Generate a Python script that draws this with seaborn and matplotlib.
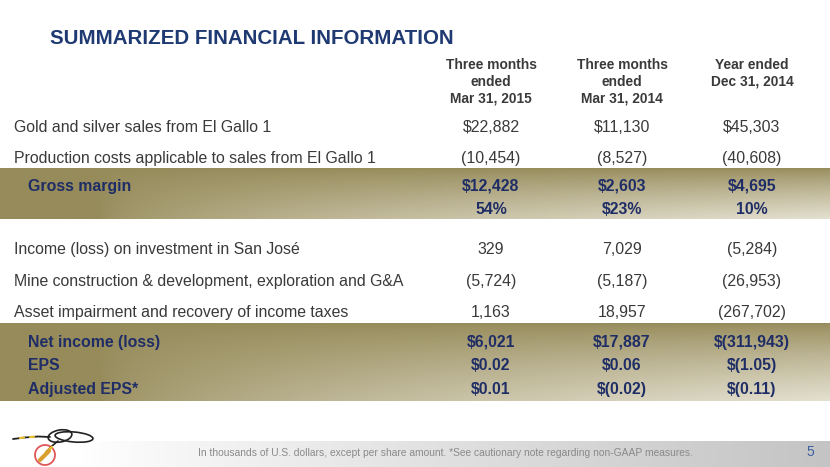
import numpy as np
import matplotlib
matplotlib.use("Agg")
import matplotlib.pyplot as plt
import seaborn as sns
from matplotlib.patches import Ellipse, Circle

# ---------------- data ----------------
title = "SUMMARIZED FINANCIAL INFORMATION"
col_headers = ["Three months\nended\nMar 31, 2015",
               "Three months\nended\nMar 31, 2014",
               "Year ended\nDec 31, 2014"]
row_labels = ["Gold and silver sales from El Gallo 1",
              "Production costs applicable to sales from El Gallo 1",
              "Gross margin",
              "",
              "Income (loss) on investment in San José",
              "Mine construction & development, exploration and G&A",
              "Asset impairment and recovery of income taxes",
              "Net income (loss)",
              "EPS",
              "Adjusted EPS*"]
q1_2015 = ["$22,882", "(10,454)", "$12,428", "54%", "329", "(5,724)", "1,163",
           "$6,021", "$0.02", "$0.01"]
q1_2014 = ["$11,130", "(8,527)", "$2,603", "$23%", "7,029", "(5,187)", "18,957",
           "$17,887", "$0.06", "$(0.02)"]
fy_2014 = ["$45,303", "(40,608)", "$4,695", "10%", "(5,284)", "(26,953)", "(267,702)",
           "$(311,943)", "$(1.05)", "$(0.11)"]
highlight = [False, False, True, True, False, False, False, True, True, True]
footnote = ("In thousands of U.S. dollars, except per share amount. "
            "*See cautionary note regarding non-GAAP measures.")
page_number = "5"

# ---------------- style ----------------
sns.set_theme(style="white")
plt.rcParams['font.family'] = ['Liberation Sans', 'DejaVu Sans']

NAVY = "#1f3a72"
VAL_NAVY = "#1f2d66"
BODY = "#3a3a3a"

W, H = 830, 467
fig = plt.figure(figsize=(W / 100, H / 100), dpi=100)
ax = fig.add_axes([0, 0, 1, 1])
ax.set_xlim(0, W)
ax.set_ylim(H, 0)
ax.axis("off")
fig.patch.set_facecolor("white")

# layout
row_y = [126, 157, 185, 208, 248, 280, 311, 341, 364, 388]
col_x = [491, 622, 752]
header_y = [64, 81, 98]


def band(y0, y1):
    nx, ny = 400, 80
    xs = np.linspace(0, 1, nx)[None, :]
    ys = np.linspace(0, 1, ny)[:, None]
    xf = np.clip((xs - 0.12) / 0.88, 0, 1) ** 0.6
    f = xf * ys ** 0.8
    D = np.array([150, 139, 90]) / 255
    L = np.array([228, 224, 208]) / 255
    rgb = D + (L - D) * f[..., None]
    ax.imshow(rgb, extent=(0, W, y1, y0), aspect="auto",
              interpolation="bilinear", zorder=0)


band(168, 219)
band(323, 401)

# footer gradient
xs = np.linspace(0, 1, 400)[None, :]
g = np.clip((xs - 0.1) / 0.9, 0, 1) ** 0.9
foot = 1 - (1 - 196 / 255) * g
foot_rgb = np.repeat(np.repeat(foot[..., None], 3, axis=2), 20, axis=0)
ax.imshow(foot_rgb, extent=(0, W, 467, 441), aspect="auto",
          interpolation="bilinear", zorder=0)

ax.set_xlim(0, W)
ax.set_ylim(H, 0)

# title
ax.text(50, 44, title, fontsize=14.8, fontweight="bold", color=NAVY,
        ha="left", va="baseline")

# headers
for cx, hdr in zip(col_x, col_headers):
    for ln, hy in zip(hdr.split("\n"), header_y):
        ax.text(cx, hy + 4.9, ln, fontsize=9.9, fontweight="bold",
                color=BODY, ha="center", va="baseline")

# rows
for i, (lab, y) in enumerate(zip(row_labels, row_y)):
    hl = highlight[i]
    if hl:
        ax.text(28, y + 5.6, lab, fontsize=11.4, fontweight="bold",
                color=VAL_NAVY, ha="left", va="baseline")
    else:
        ax.text(14, y + 5.6, lab, fontsize=11.4, color=BODY,
                ha="left", va="baseline")
    for cx, vals in zip(col_x, [q1_2015, q1_2014, fy_2014]):
        ax.text(cx, y + 5.6, vals[i], fontsize=11.4,
                fontweight="bold" if hl else "normal",
                color=VAL_NAVY if hl else BODY,
                ha="center", va="baseline")

# footnote and page number
ax.text(445, 452 + 3.5, footnote, fontsize=7.4, color="#8a8a8a",
        ha="center", va="baseline")
ax.text(810, 452 + 4.5, page_number, fontsize=10, color="#3d5fa0",
        ha="center", va="baseline")

# logo (simple drawing)
ax.plot([13, 25, 38, 50], [439, 437.5, 436.5, 437], color="#222222", lw=1.3)
ax.plot([20, 24], [438, 437.6], color="#e8c030", lw=1.6)
ax.plot([30, 34], [437, 436.8], color="#e8c030", lw=1.6)
ax.add_patch(Ellipse((60, 436), 24, 12, angle=-10, fill=False,
                     ec="#222222", lw=1.2))
ax.add_patch(Ellipse((74, 437), 38, 10, angle=5, fill=False,
                     ec="#222222", lw=1.2))
ax.plot([58, 52, 46], [441, 446, 452], color="#222222", lw=1.2)
ax.plot([52, 46], [447, 452], color="#e8c030", lw=1.8)
ax.add_patch(Circle((45, 455), 10, fill=False, ec="#e05555", lw=1.3))
ax.plot([40, 49], [460, 451], color="#d9a030", lw=3.0, solid_capstyle="round")

fig.savefig("out.png", dpi=100, facecolor="white")
